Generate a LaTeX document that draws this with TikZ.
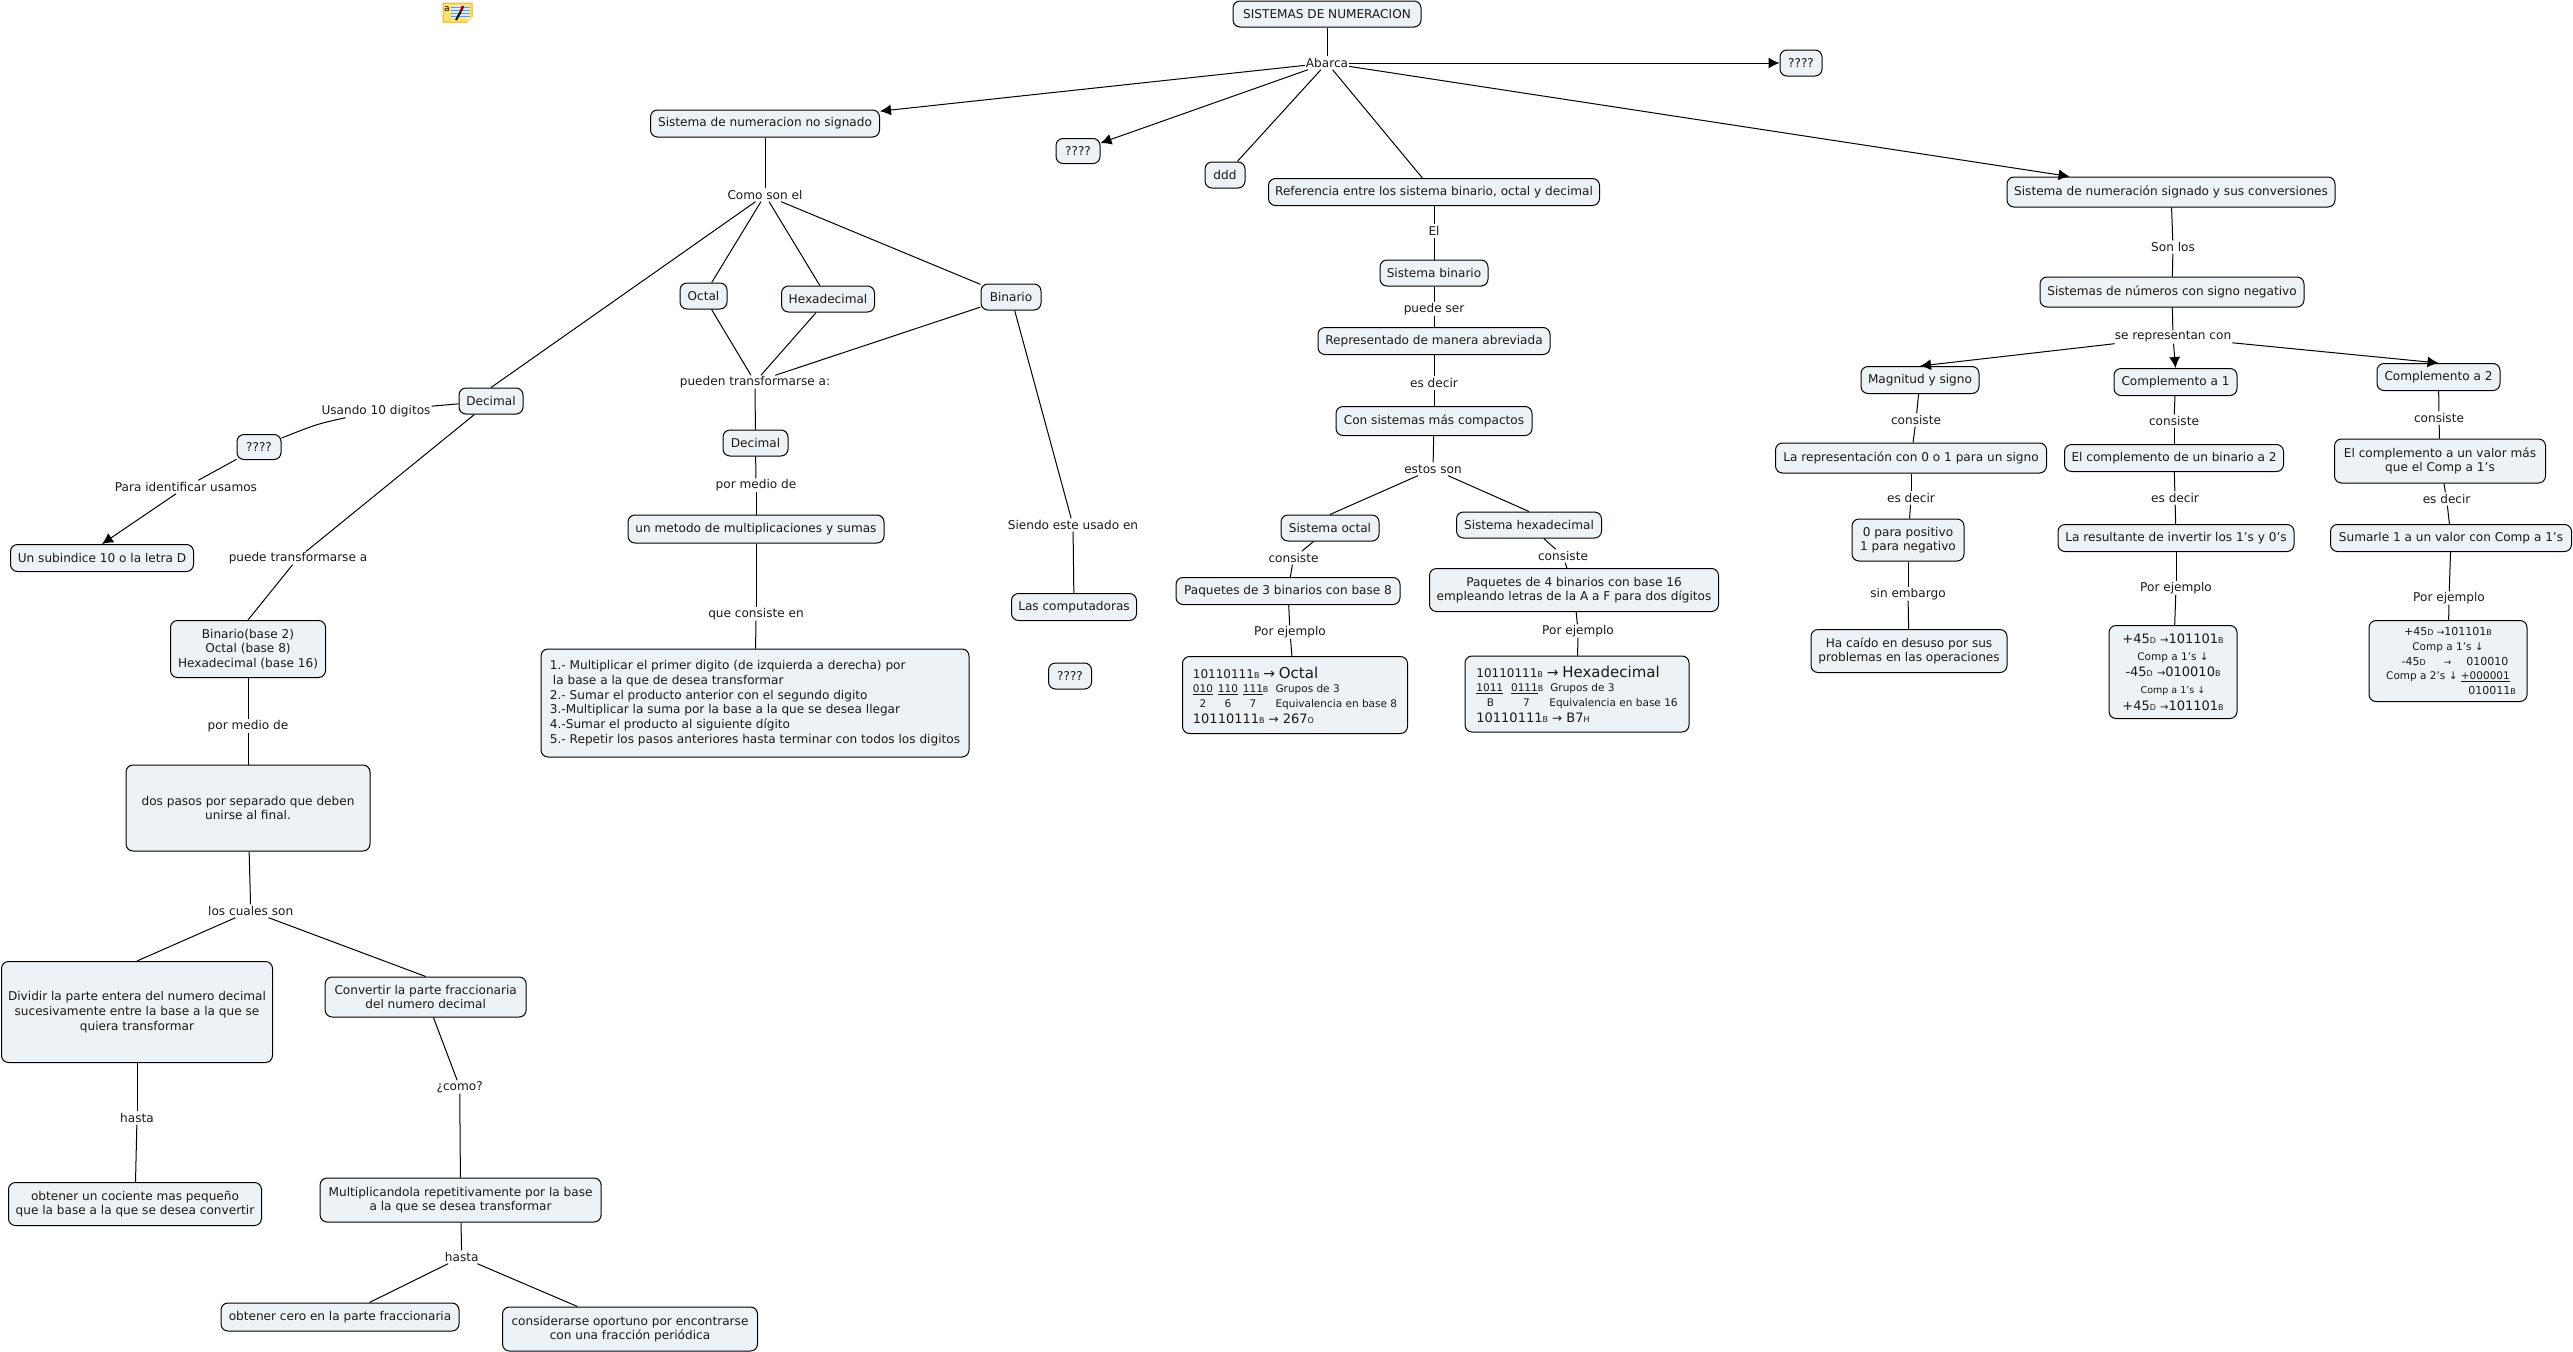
\documentclass[tikz,border=0pt]{standalone}
\usepackage{fontspec}
\setmainfont{DejaVu Sans}
\usetikzlibrary{arrows.meta}
\definecolor{conceptfill}{rgb}{0.925, 0.949, 0.961}
\definecolor{tinta}{rgb}{0.10, 0.10, 0.10}
\definecolor{notafill}{rgb}{1.0, 0.88, 0.45}
\definecolor{notaborde}{rgb}{0.90, 0.70, 0.15}
\definecolor{notalinea}{rgb}{0.35, 0.60, 0.85}
\newcommand{\tam}[1]{\fontsize{#1}{14.67}\selectfont}
\newcommand{\letra}[1]{{\fontsize{8}{8}\selectfont #1}}
\newcommand{\celda}[1]{\makebox[20pt][c]{#1}\hspace{5pt}}
\tikzset{
  concepto/.style 2 args={draw, fill=conceptfill, rectangle, rounded corners=7pt, line width=1pt, inner sep=0pt, minimum width=#1, minimum height=#2, align=center, text=tinta},
  enlace/.style={inner xsep=1pt, inner ysep=0pt, minimum height=13pt, text=tinta},
  linea/.style={line width=1pt},
  flecha/.style={line width=1pt, -{Latex[length=11pt,width=11pt]}}
}

\begin{document}
\begin{tikzpicture}[x=1pt,y=-1pt,every node/.style={font=\tam{12.1}}]
            \useasboundingbox (0,0) rectangle (2573,1352);

            % nota
            \fill[notafill,draw=notaborde,line width=1pt] (443,3) -- (472,3) -- (472,17) -- (467,22) -- (443,22) -- cycle;
            \fill[white!80!notalinea] (451,6) rectangle (470,18);
            \draw[notalinea,line width=1pt] (451,7) -- (470,7) (451,10) -- (470,10) (451,13) -- (470,13) (451,16) -- (470,16);
            \fill[notafill!60!white] (467,22) -- (467,17) -- (472,17) -- cycle;
            \draw[black,line width=2pt] (456,20) -- (461,11);
            \draw[red!60!black,line width=2.5pt] (461,11) -- (463,6);
            \node[inner sep=0pt,font=\tam{9}] (nota) at (447,9) {a};

            % conceptos
            \node[concepto={188}{26}] (c1) at (1327,14) {SISTEMAS DE NUMERACION};
            \node[concepto={42}{26}] (c2) at (1801,63) {????};
            \node[concepto={229}{27}] (c3) at (765,123.5) {Sistema de numeracion no signado};
            \node[concepto={44}{25}] (c4) at (1078,151) {????};
            \node[concepto={40}{26}] (c5) at (1225,175) {ddd};
            \node[concepto={331}{27}] (c6) at (1434,192) {Referencia entre los sistema binario, octal y decimal};
            \node[concepto={328}{30}] (c7) at (2171,192) {Sistema de numeración signado y sus conversiones};

            % no signado
            \node[concepto={47}{26}] (c8) at (703.5,296) {Octal};
            \node[concepto={93}{26}] (c9) at (828,299) {Hexadecimal};
            \node[concepto={60}{26}] (c10) at (1011,297) {Binario};
            \node[concepto={64}{26}] (c11) at (491,401) {Decimal};
            \node[concepto={44}{25}] (c12) at (259,447) {????};
            \node[concepto={183}{27}] (c13) at (102,558) {Un subindice 10 o la letra D};
            \node[concepto={155}{57}] (c14) at (248,649) {Binario(base 2)\\Octal (base 8)\\Hexadecimal (base 16)};
            \node[concepto={244}{86}] (c15) at (248,808) {dos pasos por separado que deben\\unirse al final.};
            \node[concepto={271}{101}] (c16) at (137,1012) {Dividir la parte entera del numero decimal\\sucesivamente entre la base a la que se\\quiera transformar};
            \node[concepto={201}{40}] (c17) at (425.7,997) {Convertir la parte fraccionaria\\del numero decimal};
            \node[concepto={253}{43}] (c18) at (135,1204) {obtener un cociente mas pequeño\\que la base a la que se desea convertir};
            \node[concepto={281}{44}] (c19) at (460.6,1200) {Multiplicandola repetitivamente por la base\\a la que se desea transformar};
            \node[concepto={238}{28}] (c20) at (340,1317) {obtener cero en la parte fraccionaria};
            \node[concepto={255}{44}] (c21) at (630,1329) {considerarse oportuno por encontrarse\\con una fracción periódica};
            \node[concepto={65}{26}] (c22) at (755.5,443) {Decimal};
            \node[concepto={256}{28}] (c23) at (756,529) {un metodo de multiplicaciones y sumas};
            \node[concepto={428}{108},align=left] (c24) at (755,703) {1.- Multiplicar el primer digito (de izquierda a derecha) por\\\hspace*{3pt}la base a la que de desea transformar\\2.- Sumar el producto anterior con el segundo digito\\3.-Multiplicar la suma por la base a la que se desea llegar\\4.-Sumar el producto al siguiente dígito\\5.- Repetir los pasos anteriores hasta terminar con todos los digitos};
            \node[concepto={125}{27}] (c25) at (1074,607) {Las computadoras};
            \node[concepto={43}{26}] (c26) at (1070,676) {????};

            % referencia
            \node[concepto={108}{26}] (c27) at (1434,273) {Sistema binario};
            \node[concepto={232}{27}] (c28) at (1434,341) {Representado de manera abreviada};
            \node[concepto={196}{29}] (c29) at (1434,421) {Con sistemas más compactos};
            \node[concepto={98}{26}] (c30) at (1330,528) {Sistema octal};
            \node[concepto={145}{26}] (c31) at (1529,525) {Sistema hexadecimal};
            \node[concepto={224}{27}] (c32) at (1288,591) {Paquetes de 3 binarios con base 8};
            \node[concepto={289}{43}] (c33) at (1574,590) {Paquetes de 4 binarios con base 16\\empleando letras de la A a F para dos dígitos};
            \node[concepto={225}{77},align=left] (c34) at (1295,695) {{\tam{12}10110111\letra{B} {\tam{14}→} {\tam{15}Octal}}\\{\tam{10.5}\celda{\underline{010}}\celda{\underline{110}}\makebox[20pt][l]{\underline{111}\letra{B}}\hspace{12.6pt}Grupos de 3}\\{\tam{10.5}\celda{2}\celda{6}\celda{7}\hspace{7.6pt}Equivalencia en base 8}\\[1pt]{\tam{13}10110111\letra{B} {\tam{12}→} 267\letra{O}}};
            \node[concepto={224}{76},align=left] (c35) at (1577,694) {{\tam{12}10110111\letra{B} {\tam{14}→} {\tam{15}Hexadecimal}}\\{\tam{10.5}\underline{1011}\hspace{8pt}\underline{0111}\letra{B}\hspace{7pt}Grupos de 3}\\{\tam{10.5}\makebox[28pt][c]{B}\hspace{8pt}\makebox[28pt][c]{7}\hspace{9pt}Equivalencia en base 16}\\[1pt]{\tam{13}10110111\letra{B} {\tam{12}→} B7\letra{H}}};

            % signado
            \node[concepto={264}{30}] (c36) at (2172,292) {Sistemas de números con signo negativo};
            \node[concepto={118}{27}] (c37) at (1920,380) {Magnitud y signo};
            \node[concepto={123}{27}] (c38) at (2175.5,382) {Complemento a 1};
            \node[concepto={123}{27}] (c39) at (2438.5,377) {Complemento a 2};
            \node[concepto={271}{30}] (c40) at (1911,458) {La representación con 0 o 1 para un signo};
            \node[concepto={219}{27}] (c41) at (2174,458) {El complemento de un binario a 2};
            \node[concepto={211}{44}] (c42) at (2440,461) {El complemento a un valor más\\que el Comp a 1's};
            \node[concepto={112}{42}] (c43) at (1908,540) {0 para positivo\\1 para negativo};
            \node[concepto={236}{27}] (c44) at (2176,538) {La resultante de invertir los 1's y 0's};
            \node[concepto={241}{27}] (c45) at (2451,538) {Sumarle 1 a un valor con Comp a 1's};
            \node[concepto={196}{43}] (c46) at (1909,651) {Ha caído en desuso por sus\\problemas en las operaciones};
            \node[concepto={128}{93}] (c47) at (2173,672) {{\tam{13}+45\letra{D} {\tam{10}→}101101\letra{B}}\\[2pt]{\tam{10.5}Comp a 1's ↓}\\[2pt]{\tam{13}-45\letra{D} {\tam{10}→}010010\letra{B}}\\[2pt]{\tam{9.5}Comp a 1's ↓}\\[2pt]{\tam{13}+45\letra{D} {\tam{10}→}101101\letra{B}}};
            \node[concepto={158}{81}] (c48) at (2448,661) {{\tam{11}+45\letra{D} {\tam{9}→}101101\letra{B}}\\{\tam{10.5}Comp a 1's ↓}\\{\tam{11}\hspace*{14pt}-45\letra{D}\hspace{18pt}{\tam{9}→}\hspace{15pt}010010}\\{\tam{10.5}Comp a 2's ↓ \underline{+000001}}\\{\tam{11}\hspace*{88pt}010011\letra{B}}};

            % enlaces
            \node[enlace] (e1) at (1327,63) {Abarca};
            \node[enlace] (e2) at (765,195) {Como son el};
            \node[enlace] (e3) at (755,382) {pueden transformarse a:};
            \node[enlace] (e4) at (376,411) {Usando 10 digitos};
            \node[enlace] (e5) at (186,487) {Para identificar usamos};
            \node[enlace] (e6) at (298,558) {puede transformarse a};
            \node[enlace] (e7) at (248,726) {por medio de};
            \node[enlace] (e8) at (250.7,911) {los cuales son};
            \node[enlace] (e9) at (137,1118) {hasta};
            \node[enlace] (e10) at (459.7,1087) {¿como?};
            \node[enlace] (e11) at (461.7,1257) {hasta};
            \node[enlace] (e12) at (756,485) {por medio de};
            \node[enlace] (e13) at (756,614) {que consiste en};
            \node[enlace] (e14) at (1073,525) {Siendo este usado en};
            \node[enlace] (e15) at (1434,231) {El};
            \node[enlace] (e16) at (1434,309) {puede ser};
            \node[enlace] (e17) at (1434,383) {es decir};
            \node[enlace] (e18) at (1433,469) {estos son};
            \node[enlace] (e19) at (1293.5,558) {consiste};
            \node[enlace] (e20) at (1563,556) {consiste};
            \node[enlace] (e21) at (1290,632) {Por ejemplo};
            \node[enlace] (e22) at (1578,631) {Por ejemplo};
            \node[enlace] (e23) at (2173,247) {Son los};
            \node[enlace] (e24) at (2173,337) {se representan con};
            \node[enlace] (e25) at (1916,420) {consiste};
            \node[enlace] (e26) at (2174,421) {consiste};
            \node[enlace] (e27) at (2439,418) {consiste};
            \node[enlace] (e28) at (1911,498) {es decir};
            \node[enlace] (e29) at (2175,498) {es decir};
            \node[enlace] (e30) at (2446.6,499) {es decir};
            \node[enlace] (e31) at (1908,594) {sin embargo};
            \node[enlace] (e32) at (2176,588) {Por ejemplo};
            \node[enlace] (e33) at (2449,598) {Por ejemplo};

            % arriba
            \draw[linea] (c1) -- (e1);
            \draw[flecha] (e1) -- (c2);
            \draw[flecha] (e1) -- (c3);
            \draw[flecha] (e1) -- (c4);
            \draw[linea] (e1) -- (c5);
            \draw[linea] (e1) -- (c6);
            \draw[flecha] (e1) -- (c7);

            % no signado
            \draw[linea] (c3) -- (e2);
            \draw[linea] (e2) -- (c8);
            \draw[linea] (e2) -- (c9);
            \draw[linea] (e2) -- (c10);
            \draw[linea] (e2) -- (c11.north);
            \draw[linea] (c8) -- (e3);
            \draw[linea] (c9) -- (e3);
            \draw[linea] (c10) -- (e3);
            \draw[linea] (e3) -- (c22);
            \draw[linea] (c22) -- (e12);
            \draw[linea] (e12) -- (c23);
            \draw[linea] (c23) -- (e13);
            \draw[linea] (e13) -- (c24);
            \draw[linea] (c10) -- (e14);
            \draw[linea] (e14) -- (c25);
            \draw[linea] (c11) -- (e4);
            \draw[linea] (e4) .. controls (317,424) .. (c12);
            \draw[linea] (c12) -- (e5);
            \draw[flecha] (e5) -- (c13.north);
            \draw[linea] (c11) -- (e6);
            \draw[linea] (e6) -- (c14.north);
            \draw[linea] (c14) -- (e7);
            \draw[linea] (e7) -- (c15);
            \draw[linea] (c15) -- (e8);
            \draw[linea] (e8) -- (c16.north);
            \draw[linea] (e8) -- (c17.north);
            \draw[linea] (c16) -- (e9);
            \draw[linea] (e9) -- (c18);
            \draw[linea] (c17) -- (e10);
            \draw[linea] (e10) -- (c19);
            \draw[linea] (c19) -- (e11);
            \draw[linea] (e11) -- (c20);
            \draw[linea] (e11) -- (c21);

            % referencia
            \draw[linea] (c6) -- (e15);
            \draw[linea] (e15) -- (c27);
            \draw[linea] (c27) -- (e16);
            \draw[linea] (e16) -- (c28);
            \draw[linea] (c28) -- (e17);
            \draw[linea] (e17) -- (c29);
            \draw[linea] (c29) -- (e18);
            \draw[linea] (e18) -- (c30.north);
            \draw[linea] (e18) -- (c31.north);
            \draw[linea] (c30) -- (e19);
            \draw[linea] (e19) -- (c32);
            \draw[linea] (c32) -- (e21);
            \draw[linea] (e21) -- (c34);
            \draw[linea] (c31) -- (e20);
            \draw[linea] (e20) -- (c33);
            \draw[linea] (c33) -- (e22);
            \draw[linea] (e22) -- (c35);

            % signado
            \draw[linea] (c7) -- (e23);
            \draw[linea] (e23) -- (c36);
            \draw[linea] (c36) -- (e24);
            \draw[flecha] (e24) -- (c37.north);
            \draw[flecha] (e24) -- (c38.north);
            \draw[flecha] (e24) -- (c39.north);
            \draw[linea] (c37) -- (e25);
            \draw[linea] (e25) -- (c40);
            \draw[linea] (c40) -- (e28);
            \draw[linea] (e28) -- (c43);
            \draw[linea] (c43) -- (e31);
            \draw[linea] (e31) -- (c46);
            \draw[linea] (c38) -- (e26);
            \draw[linea] (e26) -- (c41);
            \draw[linea] (c41) -- (e29);
            \draw[linea] (e29) -- (c44);
            \draw[linea] (c44) -- (e32);
            \draw[linea] (e32) -- (c47);
            \draw[linea] (c39) -- (e27);
            \draw[linea] (e27) -- (c42);
            \draw[linea] (c42) -- (e30);
            \draw[linea] (e30) -- (c45);
            \draw[linea] (c45) -- (e33);
            \draw[linea] (e33) -- (c48);
\end{tikzpicture}
\end{document}
